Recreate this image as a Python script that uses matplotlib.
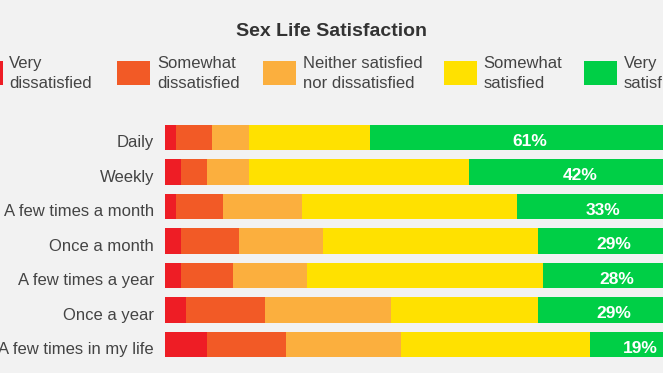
import matplotlib.pyplot as plt
import numpy as np
from matplotlib.patches import Rectangle
from matplotlib.transforms import blended_transform_factory

plt.rcParams['font.family'] = ['Liberation Sans', 'DejaVu Sans']

# Data (percent of respondents)
frequencies = ["Daily", "Weekly", "A few times a month", "Once a month",
               "A few times a year", "Once a year", "A few times in my life"]
very_dissatisfied = [2, 3, 2, 3, 3, 4, 8]
somewhat_dissatisfied = [7, 5, 9, 11, 10, 15, 15]
neither = [7, 8, 15, 16, 14, 24, 22]
somewhat_satisfied = [23, 42, 41, 41, 45, 28, 36]
very_satisfied = [61, 42, 33, 29, 28, 29, 19]

series_names = ["Very\ndissatisfied", "Somewhat\ndissatisfied",
                "Neither satisfied\nnor dissatisfied", "Somewhat\nsatisfied",
                "Very\nsatisfied"]
colors = ['#ee1d25', '#f25a26', '#fbaf3e', '#ffe100', '#00cf46']

W, H = 663, 373
BG = '#f2f2f2'
TXT = '#444444'


def fx(px):
    return px / W


def fy(py):
    return 1 - py / H


fig = plt.figure(figsize=(W / 100, H / 100), dpi=100, facecolor=BG)

# axes spans the full 0-100% width; the right edge runs past the picture like the reference crop
ax = fig.add_axes([fx(165), fy(361.75), 525 / W, 241.5 / H])
ax.set_facecolor('none')

values = [very_dissatisfied, somewhat_dissatisfied, neither,
          somewhat_satisfied, very_satisfied]
y = np.arange(len(frequencies))
left = np.zeros(len(frequencies))
for vals, color in zip(values, colors):
    ax.barh(y, vals, left=left, height=0.725, color=color, linewidth=0)
    left += np.array(vals)

# percentage labels in the green segment
green_left = left - np.array(very_satisfied)
for i, v in enumerate(very_satisfied):
    ax.text(green_left[i] + v / 2, i + 0.24, f"{v}%", ha='center', va='baseline',
            color='white', fontsize=12.5, fontweight='bold')

# category labels
trans = blended_transform_factory(fig.transFigure, ax.transData)
for i, name in enumerate(frequencies):
    ax.text(fx(154), i + 0.284, name, transform=trans, ha='right', va='baseline',
            color=TXT, fontsize=12)

ax.set_xlim(0, 100)
ax.set_ylim(len(frequencies) - 0.5, -0.5)
ax.set_xticks([])
ax.set_yticks([])
for s in ax.spines.values():
    s.set_visible(False)

# title
fig.text(0.5, fy(36), "Sex Life Satisfaction", ha='center', va='baseline',
         fontsize=14, fontweight='bold', color='#333333')

# legend drawn by hand (two-line labels beside square swatches)
patch_lefts = [-30.3, 117.3, 263.3, 444, 584]
for xl, name, color in zip(patch_lefts, series_names, colors):
    fig.add_artist(Rectangle((fx(xl), fy(85)), 33 / W, 24 / H,
                             transform=fig.transFigure, color=color, linewidth=0))
    for line, base in zip(name.split("\n"), [68.3, 87.7]):
        fig.text(fx(xl + 33 + 6.6), fy(base), line, ha='left', va='baseline',
                 fontsize=12, color=TXT)

fig.savefig('out.png', dpi=100, facecolor=BG)
